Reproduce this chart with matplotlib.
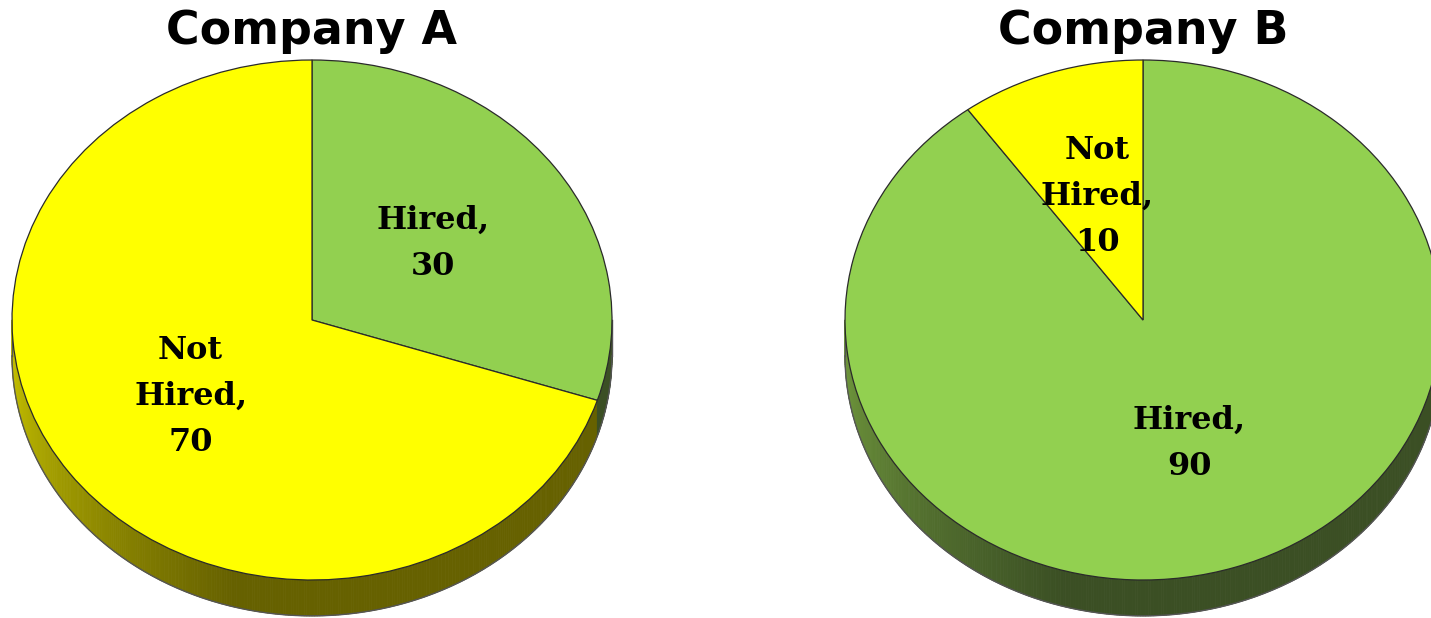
import numpy as np
import matplotlib
matplotlib.use('Agg')
import matplotlib.pyplot as plt
from matplotlib.collections import PolyCollection

# data
companies = ['Company A', 'Company B']
categories = ['Hired', 'Not Hired']
label_text = ['Hired,', 'Not\nHired,']
hired = [30, 90]
not_hired = [70, 10]

face_colors = {'Hired': '#92d050', 'Not Hired': '#ffff00'}
side_light = {'Hired': (0.45, 0.61, 0.24), 'Not Hired': (0.80, 0.78, 0.0)}
side_dark = {'Hired': (0.23, 0.31, 0.14), 'Not Hired': (0.40, 0.38, 0.0)}
depth = 0.138

fig = plt.figure(figsize=(14.31, 6.18), dpi=100)
W, H = 1431, 618


def make_ax(left_px, right_px, cx_px, rx_px, cy_px=320, ry_px=260):
    ax = fig.add_axes([left_px / W, 0, (right_px - left_px) / W, 1])
    return ax, ((left_px - cx_px) / rx_px, (right_px - cx_px) / rx_px), \
        (-(H - cy_px) / ry_px, cy_px / ry_px)


def draw_side(ax, sizes):
    cum = np.cumsum(sizes) / np.sum(sizes)
    polys, cols = [], []
    ts = np.linspace(180, 360, 361)
    for t1, t2 in zip(ts[:-1], ts[1:]):
        tm = 0.5 * (t1 + t2)
        f = ((90 - tm) % 360) / 360
        cat = categories[int(np.searchsorted(cum, f))]
        w = np.clip((tm - 180) / 75, 0, 1)
        c = np.array(side_light[cat]) * (1 - w) + np.array(side_dark[cat]) * w
        a1, a2 = np.radians(t1), np.radians(t2)
        polys.append([(np.cos(a1), np.sin(a1)), (np.cos(a2), np.sin(a2)),
                      (np.cos(a2), np.sin(a2) - depth), (np.cos(a1), np.sin(a1) - depth)])
        cols.append(c)
    pc = PolyCollection(polys, facecolors=cols, edgecolors=cols, linewidths=0.6, zorder=0.5)
    ax.add_collection(pc)
    a = np.radians(np.linspace(180, 360, 200))
    ax.plot(np.cos(a), np.sin(a) - depth, color='#555555', lw=1.0, zorder=0.6)
    ax.plot([-1, -1], [0, -depth], color='#555555', lw=1.0, zorder=0.6)
    ax.plot([1, 1], [0, -depth], color='#555555', lw=1.0, zorder=0.6)


layout = [(0, 624, 312, 300), (831, 1431, 1143, 298)]

for i, name in enumerate(companies):
    sizes = [hired[i], not_hired[i]]
    ax, xl, yl = make_ax(*layout[i])
    labels_iter = iter(['%s\n%d' % (c, v) for c, v in zip(label_text, sizes)])
    draw_side(ax, sizes)
    wedges, texts, autotexts = ax.pie(
        sizes, colors=[face_colors[c] for c in categories], startangle=90,
        counterclock=False, radius=1, autopct=lambda p: next(labels_iter),
        pctdistance=0.5,
        wedgeprops=dict(edgecolor='#2a2a2a', linewidth=0.9),
        textprops=dict(family='DejaVu Serif', weight='bold', size=23, color='black'))
    for t in autotexts:
        t.set_linespacing(1.62)
    ax.set_aspect('auto')
    ax.set_xlim(*xl)
    ax.set_ylim(*yl)
    ax.axis('off')
    ax.text(0, (320 - 31) / 260, name, ha='center', va='center',
            family='DejaVu Sans', weight='bold', size=33)

fig.savefig('out.png', dpi=100)
